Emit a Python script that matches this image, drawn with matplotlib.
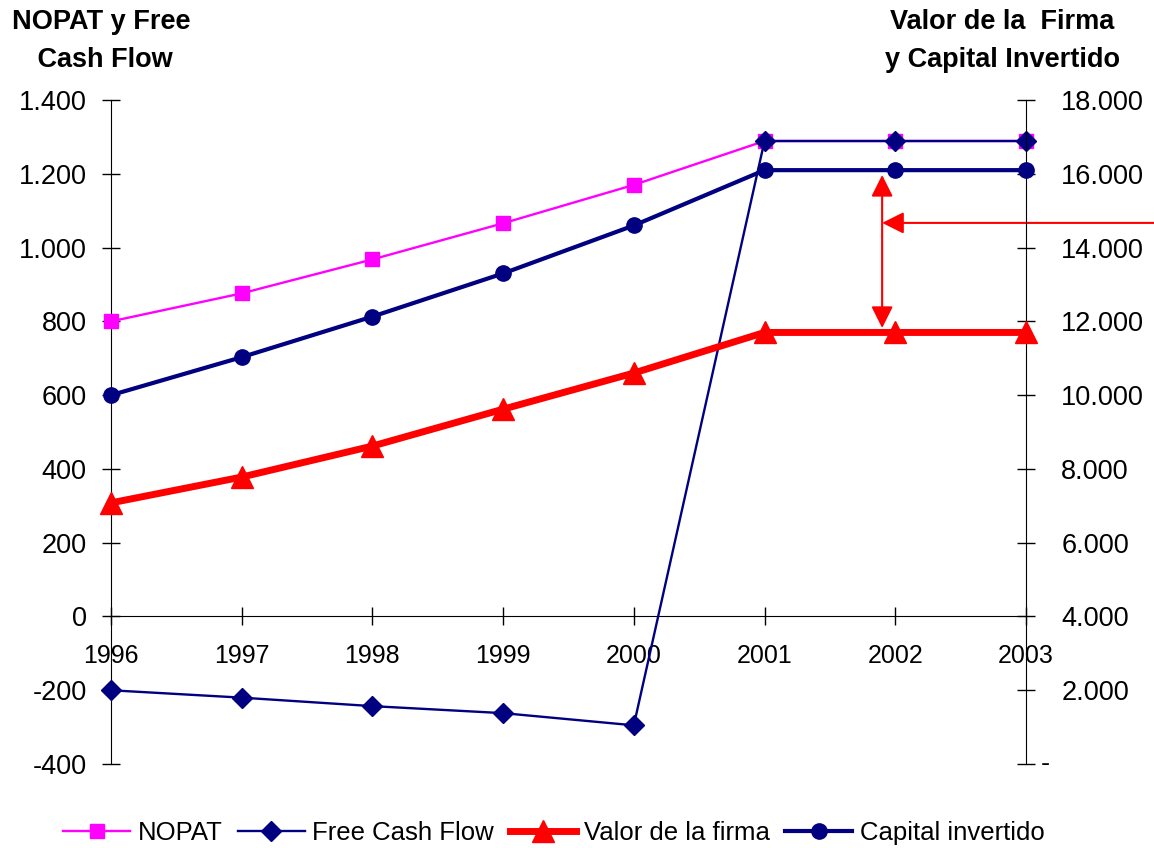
import numpy as np
import matplotlib
matplotlib.use('Agg')
import matplotlib.pyplot as plt
from matplotlib.ticker import FuncFormatter

plt.rcParams['font.family'] = ['Liberation Sans', 'DejaVu Sans']

# data
years = ['1996', '1997', '1998', '1999', '2000', '2001', '2002', '2003']
nopat = [800, 876, 968, 1066, 1170, 1289, 1289, 1289]
fcf = [-200, -220, -243, -262, -295, 1289, 1289, 1289]
valor_firma = [7080, 7780, 8620, 9620, 10600, 11700, 11700, 11700]
capital_inv = [10000, 11030, 12130, 13300, 14600, 16100, 16100, 16100]

left_ticks = [-400, -200, 0, 200, 400, 600, 800, 1000, 1200, 1400]
right_ticks = [0, 2000, 4000, 6000, 8000, 10000, 12000, 14000, 16000, 18000]

x = np.arange(len(years))

def miles(v, pos=None):
    if v == 0:
        return '0'
    return f'{int(v):,}'.replace(',', '.')

def miles_r(v, pos=None):
    if v == 0:
        return ''   # the "-" is drawn separately, it sits closer to the axis
    return f'{int(v):,}'.replace(',', '.')

fig = plt.figure(figsize=(11.54, 8.48), dpi=100)
ax = fig.add_axes([0.0962, 0.099, 0.7928, 0.783])
ax2 = ax.twinx()

l1, = ax.plot(x, nopat, color='#FF00FF', lw=1.7, marker='s', ms=10, label='NOPAT',
              zorder=3, clip_on=False)
l2, = ax.plot(x, fcf, color='#000080', lw=1.7, marker='D', ms=10, label='Free Cash Flow',
              zorder=4, clip_on=False)
l3, = ax2.plot(x, valor_firma, color='#FF0000', lw=5, marker='^', ms=16, label='Valor de la firma',
               zorder=3, clip_on=False)
l4, = ax2.plot(x, capital_inv, color='#000080', lw=3, marker='o', ms=11, label='Capital invertido',
               zorder=4, clip_on=False)

ax.set_xlim(0, len(years) - 1)
ax.set_ylim(-400, 1400)
ax2.set_ylim(0, 18000)
ax.set_yticks(left_ticks)
ax2.set_yticks(right_ticks)
ax.yaxis.set_major_formatter(FuncFormatter(miles))
ax2.yaxis.set_major_formatter(FuncFormatter(miles_r))
ax.set_xticks(x)
ax.set_xticklabels(years)

for a in (ax, ax2):
    a.spines['top'].set_visible(False)
    a.patch.set_visible(False)
ax.spines['right'].set_visible(False)
ax2.spines['left'].set_visible(False)
ax2.spines['bottom'].set_visible(False)
ax.spines['bottom'].set_position(('data', 0))

ax.tick_params(axis='y', direction='inout', length=13, width=1, labelsize=19.5, pad=11)
ax2.tick_params(axis='y', direction='inout', length=13, width=1, labelsize=19.5, pad=19)
ax.tick_params(axis='x', direction='inout', length=13, width=1, labelsize=18, pad=13)
ax2.annotate('-', xy=(1, 0), xycoords=('axes fraction', 'data'), xytext=(11, 0),
             textcoords='offset points', va='center', ha='left', fontsize=19.5)

fig.text(0.0875, 1 - 22 / 848, 'NOPAT y Free', ha='center', va='center', fontsize=19.5, fontweight='bold')
fig.text(0.0875, 1 - 60 / 848, ' Cash Flow', ha='center', va='center', fontsize=19.5, fontweight='bold')
fig.text(0.8683, 1 - 22 / 848, 'Valor de la  Firma', ha='center', va='center', fontsize=19.5, fontweight='bold')
fig.text(0.8683, 1 - 60 / 848, 'y Capital Invertido', ha='center', va='center', fontsize=19.5, fontweight='bold')

# red arrows (difference between valor firma and capital)
ax.annotate('', xy=(5.9, 1197), xytext=(5.9, 782),
            arrowprops=dict(arrowstyle='<|-|>', color='red', lw=1.5, mutation_scale=33,
                            shrinkA=0, shrinkB=0))
ax.annotate('', xy=(5.9, 1067), xytext=(7.98, 1067), annotation_clip=False,
            arrowprops=dict(arrowstyle='-|>', color='red', lw=1.5, mutation_scale=33,
                            shrinkA=0, shrinkB=0))

fig.legend(handles=[l1, l2, l3, l4], loc='center', bbox_to_anchor=(0.48, 0.0177),
           ncol=4, frameon=False, fontsize=18.5, handlelength=2.6, handletextpad=0.3,
           columnspacing=0.6, borderaxespad=0)

fig.savefig('out.png', dpi=100)
